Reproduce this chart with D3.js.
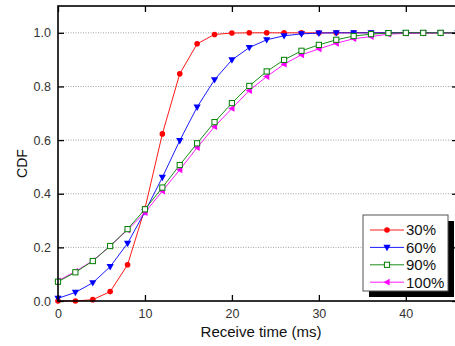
<!DOCTYPE html>
<html>
<head>
<meta charset="utf-8">
<script src="https://cdn.jsdelivr.net/npm/d3@7"></script>
<style>
  body { margin: 0; background: #fff; }
  svg { display: block; font-family: "Liberation Sans", Arial, sans-serif; }
</style>
</head>
<body>
<svg id="chart" width="455" height="346"></svg>
<script>
// Receive time (ms), one sample every 2 ms
var times = [0, 2, 4, 6, 8, 10, 12, 14, 16, 18, 20, 22, 24, 26, 28, 30, 32, 34, 36, 38, 40, 42, 44, 46];

var cdf30 = [0.0, 0.0, 0.005, 0.035, 0.135, 0.345, 0.623, 0.847, 0.959, 0.994, 0.999, 1.0,
  1.0, 1.0, 1.0, 1.0, 1.0, 1.0, 1.0, 1.0, 1.0, 1.0, 1.0, 1.0];
var cdf60 = [0.010, 0.032, 0.068, 0.128, 0.215, 0.333, 0.461, 0.598, 0.723, 0.825, 0.899, 0.945,
  0.974, 0.989, 0.996, 0.999, 1.0, 1.0, 1.0, 1.0, 1.0, 1.0, 1.0, 1.0];
var cdf90 = [0.072, 0.107, 0.149, 0.205, 0.268, 0.342, 0.423, 0.507, 0.588, 0.667, 0.738, 0.802,
  0.856, 0.899, 0.933, 0.955, 0.974, 0.988, 0.995, 0.999, 1.0, 1.0, 1.0, 1.0];
var cdf100 = [0.075, 0.110, 0.150, 0.205, 0.265, 0.330, 0.410, 0.489, 0.572, 0.650, 0.718, 0.785,
  0.837, 0.883, 0.918, 0.940, 0.961, 0.978, 0.986, 0.995, 0.998, 0.999, 1.0, 1.0];

var seriesNames = ['30%', '60%', '90%', '100%'];
var xTicks = [0, 10, 20, 30, 40];
var yTicks = [0.0, 0.2, 0.4, 0.6, 0.8, 1.0];

var svg = d3.select('#chart');

var margin = {left: 58, top: 6},
  plotW = 400,
  plotH = 295;

var x = d3.scaleLinear().domain([0, 46]).range([margin.left, margin.left + plotW]);
var y = d3.scaleLinear().domain([0, 1.1]).range([margin.top + plotH, margin.top]);

var series = [
  {name: seriesNames[0], values: cdf30, color: '#ff0000', marker: 'circle'},
  {name: seriesNames[1], values: cdf60, color: '#0000ff', marker: 'down'},
  {name: seriesNames[3], values: cdf100, color: '#ff00ff', marker: 'left'},
  {name: seriesNames[2], values: cdf90, color: '#008000', marker: 'square'}
];

// Dotted horizontal grid
svg.append('g')
  .selectAll('line')
  .data(yTicks.filter(function(d) { return d > 0; }))
  .enter()
  .append('line')
  .attr('x1', x(0))
  .attr('x2', x(46) - 6)
  .attr('y1', function(d) { return y(d); })
  .attr('y2', function(d) { return y(d); })
  .attr('stroke', '#a0a0a0')
  .attr('stroke-width', 1)
  .attr('stroke-dasharray', '1,1.5');

/**
 * Draws one marker symbol into a selection, centred at (cx, cy).
 */
function drawMarker(sel, type, color, cx, cy) {
  if (type === 'circle') {
    sel.append('circle')
      .attr('cx', cx).attr('cy', cy).attr('r', 2.8)
      .attr('fill', color);
  } else if (type === 'square') {
    sel.append('rect')
      .attr('x', cx - 2.6).attr('y', cy - 2.6)
      .attr('width', 5.2).attr('height', 5.2)
      .attr('fill', '#fff').attr('stroke', color).attr('stroke-width', 1);
  } else if (type === 'down') {
    sel.append('path')
      .attr('d', 'M' + (cx - 3.6) + ',' + (cy - 2.6) + 'L' + (cx + 3.6) + ',' + (cy - 2.6) +
        'L' + cx + ',' + (cy + 3.8) + 'Z')
      .attr('fill', color);
  } else {
    sel.append('path')
      .attr('d', 'M' + (cx + 2.6) + ',' + (cy - 3.4) + 'L' + (cx + 2.6) + ',' + (cy + 3.4) +
        'L' + (cx - 3.6) + ',' + cy + 'Z')
      .attr('fill', color);
  }
}

var line = d3.line()
  .x(function(d, i) { return x(times[i]); })
  .y(function(d) { return y(d); });

series.forEach(function(s) {
  var g = svg.append('g').attr('class', 'series');
  g.append('path')
    .datum(s.values)
    .attr('d', line)
    .attr('fill', 'none')
    .attr('stroke', s.color)
    .attr('stroke-width', 0.9);
  s.values.forEach(function(v, i) {
    drawMarker(g, s.marker, s.color, x(times[i]), y(v));
  });
});

// Axes, ticks pointing inward
var fmt = d3.format('.1f');

var gBottom = svg.append('g')
  .attr('transform', 'translate(0,' + y(0) + ')')
  .call(d3.axisBottom(x).tickValues(xTicks).tickSize(-6).tickPadding(8));
var gLeft = svg.append('g')
  .attr('transform', 'translate(' + x(0) + ',0)')
  .call(d3.axisLeft(y).tickValues(yTicks).tickFormat(fmt).tickSize(-6).tickPadding(7));
var gTop = svg.append('g')
  .attr('transform', 'translate(0,' + y(1.1) + ')')
  .call(d3.axisTop(x).tickValues(xTicks).tickSize(-6).tickFormat(''));
var gRight = svg.append('g')
  .attr('transform', 'translate(' + x(46) + ',0)')
  .call(d3.axisRight(y).tickValues(yTicks).tickSize(-6).tickFormat(''));

[gBottom, gLeft, gTop, gRight].forEach(function(g) {
  g.select('.domain').remove();
  g.selectAll('.tick line').attr('stroke', '#000').attr('stroke-width', 1.3);
  g.selectAll('.tick text')
    .attr('fill', '#333')
    .style('font-size', '12.5px')
    .style('font-family', '"Liberation Sans", Arial, sans-serif');
});

// Plot frame
svg.append('rect')
  .attr('x', x(0))
  .attr('y', y(1.1))
  .attr('width', x(46) - x(0))
  .attr('height', y(0) - y(1.1))
  .attr('fill', 'none')
  .attr('stroke', '#000')
  .attr('stroke-width', 1.6);

// Axis titles
svg.append('text')
  .attr('x', 261)
  .attr('y', 337)
  .attr('text-anchor', 'middle')
  .attr('fill', '#111')
  .style('font-size', '15px')
  .text('Receive time (ms)');

svg.append('text')
  .attr('transform', 'translate(26.5,163.5) rotate(-90)')
  .attr('text-anchor', 'middle')
  .attr('fill', '#111')
  .style('font-size', '14px')
  .text('CDF');

// Legend with drop shadow
var legend = svg.append('g').attr('transform', 'translate(363,215)');
legend.append('rect')
  .attr('x', 6).attr('y', 6).attr('width', 85).attr('height', 76)
  .attr('fill', '#000');
legend.append('rect')
  .attr('x', 0).attr('y', 0).attr('width', 85).attr('height', 76)
  .attr('fill', '#fff').attr('stroke', '#555').attr('stroke-width', 1);

var legendOrder = [series[0], series[1], series[3], series[2]];
legendOrder.forEach(function(s, i) {
  var ly = 15 + i * 17.4;
  var row = legend.append('g');
  row.append('line')
    .attr('x1', 7).attr('x2', 41)
    .attr('y1', ly).attr('y2', ly)
    .attr('stroke', s.color).attr('stroke-width', 0.9);
  drawMarker(row, s.marker, s.color, 24, ly);
  row.append('text')
    .attr('x', 43)
    .attr('y', ly)
    .attr('dy', '0.36em')
    .attr('fill', '#111')
    .style('font-size', '15px')
    .text(s.name);
});
</script>
</body>
</html>
